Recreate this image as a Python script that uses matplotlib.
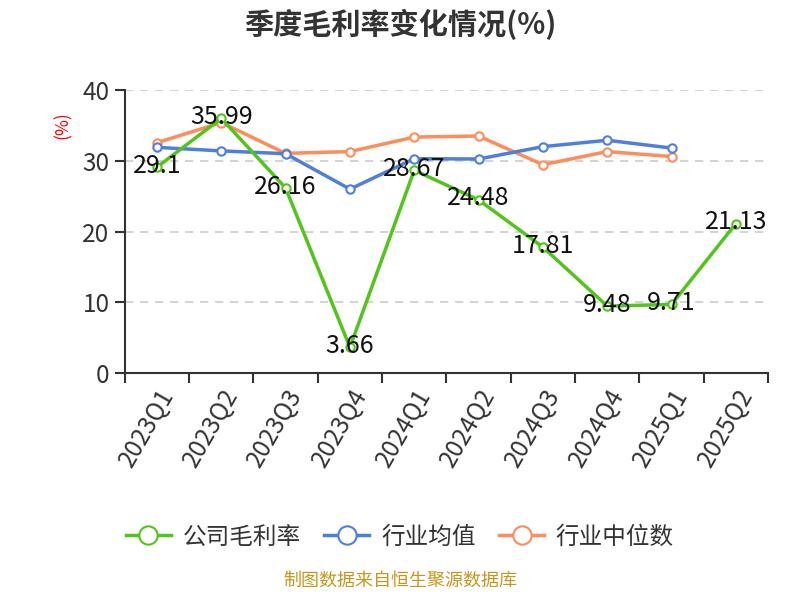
import numpy as np
import matplotlib.pyplot as plt

plt.rcParams['font.family'] = ['Noto Sans CJK SC', 'DejaVu Sans']

# data
quarters = ['2023Q1', '2023Q2', '2023Q3', '2023Q4', '2024Q1',
            '2024Q2', '2024Q3', '2024Q4', '2025Q1', '2025Q2']
company = [29.1, 35.99, 26.16, 3.66, 28.67, 24.48, 17.81, 9.48, 9.71, 21.13]
ind_mean = [31.9, 31.4, 31.0, 26.0, 30.3, 30.25, 32.0, 32.9, 31.8]
ind_median = [32.55, 35.4, 31.05, 31.3, 33.35, 33.5, 29.45, 31.3, 30.6]

green = '#52c41a'
blue = '#4e7fe0'
orange = '#ff8c5a'

fig = plt.figure(figsize=(8, 6), dpi=100)
ax = fig.add_axes([0.156, 0.378, 0.804, 0.472])

x = np.arange(len(quarters))

def draw(vals, color, label, z):
    ax.plot(x[:len(vals)], vals, color=color, lw=2.5, marker='o', ms=6,
            mfc='white', mec=color, mew=1.5, label=label, zorder=z)

draw(ind_median, orange, '行业中位数', 3)
draw(ind_mean, blue, '行业均值', 4)
draw(company, green, '公司毛利率', 5)

for xi, v in zip(x, company):
    ax.text(xi, v + 0.2, '{:g}'.format(v), ha='center', va='center',
            fontsize=18, color='#111111', zorder=6)

ax.set_xlim(-0.5, len(quarters) - 0.5)
ax.set_ylim(0, 40)
ax.set_yticks([0, 10, 20, 30, 40])
ax.tick_params(axis='y', labelsize=17.5, colors='#333333', length=7, width=1.5,
               pad=4)
ax.tick_params(axis='x', length=7, width=1.5, color='#333333')
ax.set_xticks(np.arange(-0.5, len(quarters), 1), minor=False)
ax.set_xticklabels([])
ax.set_xticks(x, minor=True)
ax.set_xticklabels(quarters, minor=True, rotation=60, ha='right',
                   rotation_mode='anchor', fontsize=17.5, color='#333333')
ax.tick_params(axis='x', which='minor', length=0, pad=8)

for y in [10, 20, 30, 40]:
    ax.axhline(y, color='#cccccc', lw=1.2, ls=(0, (5, 4)), zorder=1)

for s in ['top', 'right']:
    ax.spines[s].set_visible(False)
ax.spines['left'].set_color('#333333')
ax.spines['bottom'].set_color('#333333')
ax.spines['left'].set_linewidth(1.5)
ax.spines['bottom'].set_linewidth(1.5)

fig.text(0.078, 0.792, '(%)', color='red', fontsize=12.5, rotation=90,
         ha='center', va='center')

fig.suptitle('季度毛利率变化情况(%)', y=0.985, fontsize=21, fontweight='bold',
             color='#333333')

handles, labels = ax.get_legend_handles_labels()
order = [2, 1, 0]
leg = fig.legend([handles[i] for i in order], [labels[i] for i in order],
                 loc='center', bbox_to_anchor=(0.5, 0.105), ncol=3,
                 frameon=False, fontsize=17, handlelength=1.9,
                 columnspacing=1.0, handletextpad=0.5, markerscale=2.2)
for t in leg.get_texts():
    t.set_color('#333333')

fig.text(0.5, 0.018, '制图数据来自恒生聚源数据库', ha='center', va='bottom',
         fontsize=13, color='#c8961e')

fig.savefig('out.png', dpi=100)
